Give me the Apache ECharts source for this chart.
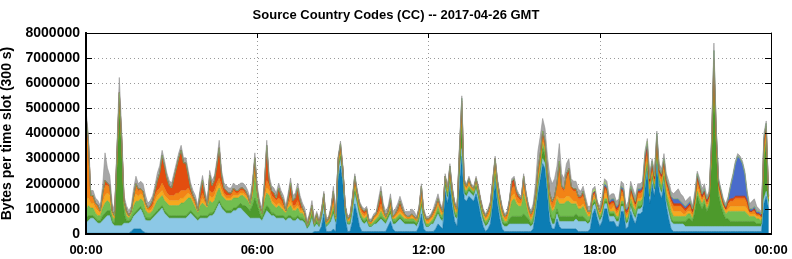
<!DOCTYPE html>
<html><head><meta charset="utf-8">
<script src="https://cdn.jsdelivr.net/npm/echarts/dist/echarts.min.js"></script>
<style>html,body{margin:0;padding:0;background:#fff}#c{width:792px;height:259px}</style>
</head><body><div id="c"></div>
<script>
// Values are in units of 100 000 bytes per 300 s slot; 288 slots (00:00 .. 23:55 GMT)
const UNIT = 100000;
const SLOTS_PER_TICK = 72; // 6 hours of 5-minute slots
const xTickLabels = ['00:00', '06:00', '12:00', '18:00', '00:00'];
const titleText = 'Source Country Codes (CC) -- 2017-04-26 GMT';
const yAxisTitle = 'Bytes per time slot (300 s)';

const ccDarkBlue = [
0.3,0.3,0.3,0.3,0.3,0.3,0.3,0.3,0.3,0.3,0.3,0.3,
0.3,0.3,0.3,0.3,0.3,0.3,0.3,1,2,2,2,2,
1,0.5,0.3,0.3,0.3,0.3,0.3,0.3,0.3,0.3,0.3,0.3,
0.3,0.3,0.3,0.3,0.3,0.3,0.3,0.3,0.3,0.3,0.3,0.3,
0.3,0.3,0.3,0.3,0.3,0.3,0.3,0.3,0.3,0.3,0.3,0.3,
0.3,0.3,0.3,0.3,0.3,0.3,0.3,0.3,0.3,0.3,0.3,0.3,
0.3,0.3,0.3,0.3,0.3,0.3,0.3,0.3,0.3,0.3,0.3,0.3,
0.3,0.3,0.3,0.3,0.3,0.3,0.3,0.3,0.3,0.3,0.3,0.3,
1,1,1,3,8,1,1,1,2,1,22,27,
20,6,1,1,5,12,8,3,1,1,1,1,
1,1,1,1,1,1,1,3,5,2,1,1,
1,1,1,1,1,1,1,1,3,8,2,1,
1,1,1,2,4,3,2,17,12,19,11,5,
3,20,31,14,13,15,14,13,16,12,7,3,
1,2,4,12,21,12,6,2,1,1,1,1,
1,1,1,1,1,1,1,1,2,8,16,22,
28,26,16,5,2,2,6,3,2,2,2,2,
2,2,2,1,1,1,1,1,2,8,10,6,
3,5,10,10,5,5,5,3,3,9,9,2,
3,9,6,4,8,8,9,18,25,12,20,15,
28,17,14,20,11,6,2,1,1,1,1,1,
1,1,1,1,1,1,1,1,1,1,1,1,
1,1,1,1,1,1,1,1,1,1,1,1,
1,1,1,1,1,1,1,1,1,12,15,10];

const ccLightBlue = [
4,5,6,6,5,4,4,5,6,7,7,4,
3,3,3,3,4,4,4,4,5,6,7,8,
7,5,5,5,6,7,8,9,10,8,7,6,
6,6,6,6,6,6,6,7,8,7,6,5,
6,6,6,6,7,7,8,10,12,10,9,8,
8,8,9,9,10,10,9,8,7,6,6,6,
6,6,5,7,9,8,7,7,6,6,6,6,
5,6,6,5,5,6,5,5,4,2,3,6,
2,3,2,3,3,2,3,4,6,3,3,3,
3,3,3,3,4,4,4,4,4,3,4,2,
2,3,3,4,5,4,3,3,3,2,3,4,
5,4,3,3,3,3,3,2,2,3,3,2,
2,3,3,4,4,3,3,2,2,2,2,2,
3,2,3,2,2,2,2,2,2,2,2,2,
2,2,2,2,2,2,2,2,2,2,3,3,
3,3,3,3,3,3,3,2,2,2,2,2,
2,2,2,2,2,2,2,2,3,3,3,3,
3,3,4,4,4,4,4,3,3,3,2,2,
2,2,2,2,2,2,2,2,2,2,2,2,
2,2,2,2,2,2,2,2,2,2,2,2,
2,2,2,2,2,3,3,3,3,3,3,3,
2,2,2,2,2,2,2,2,2,2,2,2,
2,2,2,2,2,2,2,2,2,2,2,2,
2,2,2,2,2,2,2,2,2,2,2,1];

const ccDarkGreen = [
2,2,1,1,1,1,1,2,2,2,2,1,
1,22,47,30,4,1,1,1,1,1,1,1,
1,1,1,1,1,1,1,1,1,1,1,1,
1,1,1,1,1,1,1,1,1,1,1,1,
1,1,1,1,1,1,1,1,1,1,1,1,
1,1,1,1,1,2,2,3,3,3,5,8,
5,2,1,2,2,2,1,1,1,1,1,1,
1,1,1,1,1,1,1,1,1,0,1,1,
0,1,0,1,1,0,0,1,1,1,1,1,
1,0,0,0,1,1,1,1,1,1,1,0,
0,0,1,1,1,1,1,1,1,1,1,1,
1,1,1,1,1,1,1,1,1,1,1,0,
0,0,1,1,1,1,1,1,1,1,1,1,
1,5,9,1,1,1,1,1,1,1,1,1,
1,1,1,1,1,1,1,1,1,1,2,3,
3,3,3,3,4,3,2,1,1,1,1,1,
4,3,2,2,2,2,2,2,2,2,2,2,
2,2,2,2,2,2,1,1,1,1,1,1,
1,1,1,1,1,1,1,1,1,1,1,1,
1,1,1,1,1,1,1,1,1,1,1,1,
2,1,1,1,1,1,1,1,1,1,1,1,
2,3,3,2,6,12,9,7,9,6,8,26,
56,30,12,8,5,3,3,2,2,2,2,2,
2,2,2,2,2,2,1,1,1,15,19,2];

const ccLightGreen = [
3,4,3,3,2,2,2,3,4,4,3,2,
1,3,2,2,3,2,1,2,3,4,3,3,
4,3,2,2,2,3,4,4,4,4,4,4,
4,4,4,4,5,5,6,6,5,4,3,2,
4,5,4,3,5,4,4,5,5,4,4,4,
4,4,4,4,3,3,4,3,3,2,4,10,
4,2,2,4,5,5,4,3,3,4,3,2,
2,3,4,3,3,3,2,2,1,1,1,2,
1,1,1,1,1,1,1,1,2,1,1,1,
1,1,1,1,1,2,1,1,1,1,1,1,
1,1,1,1,2,1,1,1,1,1,1,1,
1,1,1,1,1,1,1,1,1,1,1,1,
1,1,1,1,2,1,1,1,1,1,1,1,
1,2,4,1,1,1,1,1,1,1,1,1,
1,1,1,2,2,2,2,2,1,1,3,6,
7,5,4,4,8,5,2,1,2,2,2,2,
2,2,2,3,3,4,4,5,5,5,6,6,
5,5,4,3,3,4,3,2,1,1,1,1,
1,1,1,1,1,1,1,1,1,1,1,1,
1,2,2,2,2,2,2,2,1,1,1,1,
2,2,2,2,2,3,3,2,2,2,2,2,
2,2,2,1,2,2,2,2,2,1,1,2,
5,3,2,2,2,2,3,4,4,4,4,4,
4,4,3,2,2,2,2,2,1,2,2,1];

const ccYellow = [
5,3,2,2,2,2,1,2,3,3,3,1,
1,1,1,1,1,1,1,1,2,3,2,2,
2,2,1,1,1,2,2,2,2,2,2,2,
2,2,2,2,2,2,2,2,1,1,1,1,
1,2,1,1,2,2,2,2,2,2,1,1,
1,1,1,1,1,1,1,1,1,1,1,1,
1,1,0,1,2,2,1,1,1,1,1,1,
1,1,2,1,1,1,1,1,1,0,1,1,
0,1,0,0,1,0,0,1,1,0,1,1,
0,0,0,1,1,1,1,1,1,1,1,0,
0,1,1,1,1,1,0,0,1,0,1,1,
1,1,1,0,0,1,0,0,1,1,1,1,
1,1,1,1,1,1,1,1,1,1,1,1,
1,1,1,1,1,1,0,0,1,1,1,1,
1,1,1,1,1,1,1,1,1,1,1,2,
2,1,1,1,2,1,1,1,1,1,1,1,
1,1,1,1,1,1,1,2,2,2,2,2,
2,1,1,1,1,1,1,1,1,1,1,1,
1,1,2,2,1,1,2,1,2,2,2,1,
1,2,2,1,1,1,1,2,1,2,1,1,
1,1,1,1,2,2,2,2,2,2,2,1,
1,1,1,1,1,2,2,1,1,1,1,1,
2,1,1,1,1,1,1,2,2,2,2,2,
2,2,2,1,1,1,1,1,1,1,1,0];

const ccOrange = [
30,22,3,2,2,2,1,3,4,3,3,1,
1,1,2,1,1,1,0,0,2,3,2,2,
2,1,1,1,1,2,2,2,3,3,2,2,
2,2,3,3,3,3,2,2,1,1,1,0,
1,2,1,0,2,2,2,2,2,2,1,1,
1,1,2,1,1,1,1,1,1,0,1,1,
1,0,0,2,3,2,2,2,2,2,2,1,
0,1,2,1,1,2,1,1,1,0,1,1,
0,1,0,1,1,1,1,1,1,1,1,1,
1,1,1,1,1,1,1,1,1,1,1,1,
1,1,1,1,2,1,1,1,1,1,1,1,
2,1,1,1,1,1,1,1,1,2,1,1,
1,1,1,1,1,1,1,1,1,1,1,1,
1,1,2,1,1,1,1,1,1,1,1,1,
1,1,2,2,2,2,2,1,1,1,2,3,
3,2,2,1,3,2,1,1,1,1,2,2,
2,1,1,2,2,3,4,12,4,3,7,9,
4,4,4,3,3,3,2,1,1,1,1,1,
1,1,2,1,1,2,1,1,1,2,1,1,
1,1,1,1,2,2,2,2,2,2,1,1,
2,1,2,2,2,2,2,2,2,2,2,2,
1,1,2,1,1,2,2,1,1,1,1,2,
2,1,1,1,1,1,2,2,2,3,3,3,
3,3,2,1,1,1,1,1,1,2,2,1];

const ccRedOrange = [
2,1,0,1,0,0,0,1,2,1,1,0,
0,1,1,1,0,0,0,0,0,1,1,0,
0,0,0,1,2,2,4,6,10,8,6,4,
3,7,10,14,16,11,11,5,2,1,1,0,
3,5,2,0,6,3,4,7,12,4,2,2,
1,1,1,1,1,1,1,1,0,0,2,4,
0,0,0,3,13,2,2,2,1,4,2,2,
0,2,5,2,3,5,3,0,0,0,0,0,
0,0,0,0,1,0,0,1,4,0,1,1,
0,0,0,0,1,1,1,1,1,1,1,0,
0,0,0,3,5,1,0,0,2,0,0,1,
2,1,0,0,0,0,0,0,1,3,0,0,
0,0,1,1,1,1,0,0,0,1,1,1,
0,1,2,1,0,1,0,0,0,0,0,0,
0,1,1,1,1,1,1,1,0,1,1,2,
2,1,1,1,2,1,1,1,1,1,1,1,
1,1,1,1,1,1,1,2,1,1,2,2,
1,1,1,1,1,1,1,0,0,1,1,0,
0,1,1,1,1,1,1,1,1,1,1,1,
1,1,1,1,1,1,1,2,2,1,1,1,
1,1,1,1,1,1,1,1,1,1,1,1,
1,1,1,1,1,1,1,1,1,1,1,1,
1,1,1,1,0,0,1,1,1,1,1,1,
1,1,1,0,0,1,0,0,0,2,1,0];

const ccDarkRed = [
1,0,0,0,0,0,0,0,0,0,0,0,
0,1,0,0,0,0,0,0,0,0,0,0,
0,0,0,0,0,0,0,0,1,1,0,0,
0,0,0,0,0,0,0,0,0,0,0,0,
0,0,0,0,0,0,0,0,0,0,0,0,
0,0,0,0,0,0,0,0,0,0,0,0,
0,0,0,0,1,0,0,0,0,0,0,0,
0,0,0,0,0,0,0,0,0,0,0,0,
0,0,0,0,0,0,0,0,0,0,0,1,
0,0,0,0,0,1,0,0,0,0,0,0,
0,0,0,0,0,0,0,0,0,0,0,0,
0,0,0,0,0,0,0,0,0,0,0,0,
0,0,0,0,0,0,0,0,0,1,0,0,
0,1,1,0,0,0,0,0,0,0,0,0,
0,0,0,0,0,0,0,0,0,0,0,1,
1,1,0,0,0,0,0,0,0,0,1,1,
1,1,0,0,0,0,0,1,0,0,0,0,
0,0,0,0,0,1,0,0,0,0,0,0,
0,0,0,0,0,0,0,0,0,0,0,0,
0,0,0,0,0,0,0,1,1,0,1,0,
1,0,0,0,0,0,0,0,0,0,0,0,
0,0,0,0,0,1,0,0,0,0,0,1,
1,1,0,0,0,0,0,0,0,0,0,0,
0,0,0,0,0,0,0,0,0,1,1,0];

const ccBlue = [
0,0,0,0,0,0,0,0,0,0,0,0,
0,0,0,0,0,0,0,0,0,0,0,0,
0,0,0,0,0,0,0,0,0,0,0,0,
0,0,0,0,0,0,0,0,0,0,0,0,
0,0,0,0,0,0,0,0,0,0,0,0,
0,0,0,0,0,0,0,0,0,0,0,0,
0,0,0,0,0,0,0,0,0,0,0,0,
0,0,0,0,0,0,0,0,0,0,0,0,
0,0,0,0,0,0,0,0,0,0,0,0,
0,0,0,0,0,0,0,0,0,0,0,0,
0,0,0,0,0,0,0,0,0,0,0,0,
0,0,0,0,0,0,0,0,0,0,0,0,
0,0,0,0,0,0,0,0,0,0,0,0,
0,0,1,0,0,0,0,0,0,0,0,0,
0,0,0,0,0,0,0,0,0,0,0,0,
0,0,0,0,0,0,0,0,0,0,0,0,
0,0,0,0,0,0,0,0,0,0,0,0,
0,0,0,0,0,0,0,0,0,0,0,0,
0,1,1,1,1,1,1,1,1,1,1,1,
1,1,1,1,1,1,1,1,1,1,1,1,
1,1,1,1,1,1,1,2,2,2,1,1,
1,1,1,1,1,1,1,1,1,1,1,1,
3,1,1,1,1,1,1,5,9,13,16,15,
13,9,3,1,1,1,1,1,1,1,1,0];

const ccLime = [
0,0,0,0,0,0,0,0,0,0,0,0,
0,0,0,0,0,0,0,0,0,0,0,0,
0,0,0,0,0,0,0,0,0,0,0,0,
0,0,0,0,0,0,0,0,0,0,0,0,
0,0,0,0,0,0,0,0,0,0,0,0,
0,0,0,0,0,0,0,0,0,0,0,0,
0,0,0,0,0,0,0,0,0,0,0,0,
0,0,0,0,0,0,0,0,0,0,0,0,
0,0,0,0,0,0,0,0,0,0,0,0,
0,0,0,0,0,0,0,0,0,0,0,0,
0,0,0,0,0,0,0,0,0,0,0,0,
0,0,0,0,0,0,0,0,0,0,0,0,
0,0,0,0,0,0,0,0,0,0,0,0,
0,0,0,0,0,0,0,0,0,0,0,0,
0,0,0,0,0,0,0,0,0,0,0,0,
0,0,0,0,0,0,0,0,0,0,0,0,
0,0,0,0,0,0,0,0,0,0,0,0,
0,0,0,0,0,0,0,0,0,1,1,0,
0,0,1,0,0,0,0,0,0,0,0,0,
0,0,0,0,0,0,0,1,1,0,0,0,
0,0,0,0,0,0,0,0,0,0,0,0,
0,0,0,0,0,0,0,0,0,0,0,0,
0,0,0,0,0,0,0,0,0,0,0,0,
0,0,0,0,0,0,0,0,0,0,0,0];

const ccGray = [
2,2,2,2,2,2,2,3,11,6,4,3,
2,2,6,3,2,2,2,2,3,3,2,3,
3,3,2,2,2,2,3,3,2,2,2,2,
2,2,2,2,2,2,2,2,2,2,2,2,
2,2,2,2,2,2,2,2,3,2,2,2,
2,2,2,2,2,2,2,2,2,2,2,2,
2,2,2,2,2,2,2,2,2,2,2,2,
2,2,2,2,2,2,2,2,2,2,1,2,
2,1,2,1,1,1,1,1,2,1,1,1,
1,1,1,1,1,1,1,1,1,1,1,1,
1,1,1,2,2,2,2,2,2,2,2,2,
2,2,1,2,2,2,2,1,1,1,1,1,
1,1,1,2,2,1,1,1,1,1,1,1,
1,2,1,1,1,1,1,1,1,1,1,1,
1,1,1,1,1,1,1,1,1,1,1,1,
1,1,1,1,1,1,1,1,2,4,7,7,
5,5,6,7,7,7,7,7,5,4,4,4,
3,3,3,3,2,2,2,2,2,1,1,1,
2,2,1,2,2,2,2,2,2,2,2,1,
2,2,2,2,2,2,2,1,1,2,1,2,
1,2,2,2,2,2,2,2,3,4,3,3,
2,2,2,1,2,1,2,2,2,1,1,1,
3,1,1,1,1,1,1,1,1,1,1,1,
1,1,1,2,3,3,2,1,1,2,1,1];

const layers = [
  { name: 'CC 1', values: ccDarkBlue,   fill: '#0c7db4', edge: '#0a6c9c' },
  { name: 'CC 2', values: ccLightBlue,  fill: '#8cc8e6', edge: '#78b7d8' },
  { name: 'CC 3', values: ccDarkGreen,  fill: '#4d9a2c', edge: '#418b24' },
  { name: 'CC 4', values: ccLightGreen, fill: '#72be50', edge: '#62ac42' },
  { name: 'CC 5', values: ccYellow,     fill: '#f6a91f', edge: '#e39a14' },
  { name: 'CC 6', values: ccOrange,     fill: '#f28316', edge: '#df730c' },
  { name: 'CC 7', values: ccRedOrange,  fill: '#e34d0f', edge: '#cf420a' },
  { name: 'CC 8', values: ccDarkRed,    fill: '#b83a26', edge: '#a3321f' },
  { name: 'CC 9', values: ccBlue,       fill: '#4a6ccb', edge: '#3d5cb6' },
  { name: 'CC 10', values: ccLime,      fill: '#a6e05c', edge: '#93cf48' },
  { name: 'Other', values: ccGray,      fill: '#a6a6a6', edge: '#8f8f8f' }
];

// 289 category positions: slot starts 00:00 .. 23:55 plus the closing 24:00 edge
const slotCount = ccGray.length;
const slotCategories = [];
for (let i = 0; i <= slotCount; i++) slotCategories.push(String(i));
const isTick = (idx) => idx % SLOTS_PER_TICK === 0;

const FONT = 'Liberation Sans';
const chart = echarts.init(document.getElementById('c'), null, { renderer: 'canvas' });

const series = layers.map(l => ({
  name: l.name,
  type: 'line',
  stack: 'total',
  xAxisIndex: 0,
  yAxisIndex: 0,
  symbol: 'none',
  showSymbol: false,
  smooth: false,
  z: 2,
  lineStyle: { width: 0.6, color: l.edge },
  areaStyle: { color: l.fill, opacity: 1 },
  emphasis: { disabled: true },
  data: l.values.map(v => v * UNIT)
}));

const dotted = { color: '#9a9a9a', width: 1, type: [1, 3] };
const catBase = { type: 'category', data: slotCategories, boundaryGap: false };

chart.setOption({
  animation: false,
  backgroundColor: '#fff',
  title: {
    text: titleText, left: 'center', top: 4,
    textStyle: { fontFamily: FONT, fontWeight: 'bold', fontSize: 13, color: '#000' }
  },
  grid: { left: 86, right: 21, top: 33, bottom: 25, containLabel: false, outerBoundsMode: 'none' },
  xAxis: [
    Object.assign({}, catBase, { position: 'bottom',
      axisLine: { show: true, onZero: false, lineStyle: { color: '#000', width: 2 } },
      axisTick: { show: false },
      axisLabel: { interval: isTick, formatter: (v, idx) => xTickLabels[Math.round(Number(v) / SLOTS_PER_TICK)], fontFamily: FONT, fontWeight: 'bold', fontSize: 13, color: '#000', margin: 10, showMinLabel: true, showMaxLabel: true },
      splitLine: { show: true, interval: isTick, lineStyle: dotted } }),
    Object.assign({}, catBase, { position: 'bottom', z: 10,
      axisLine: { show: true, onZero: false, lineStyle: { color: '#000', width: 2 } },
      axisTick: { show: false }, axisLabel: { show: false }, splitLine: { show: false } }),
    Object.assign({}, catBase, { position: 'top', z: 10,
      axisLine: { show: true, onZero: false, lineStyle: { color: '#000', width: 1 } },
      axisTick: { show: true, inside: true, length: 5, interval: isTick, lineStyle: { color: '#000' } },
      axisLabel: { show: false }, splitLine: { show: false } })
  ],
  yAxis: [
    { type: 'value', min: 0, max: 8000000, interval: 1000000, position: 'left',
      name: yAxisTitle, nameLocation: 'middle', nameGap: 72, nameRotate: 90,
      nameTextStyle: { fontFamily: FONT, fontWeight: 'bold', fontSize: 14, color: '#000' },
      axisLine: { show: true, onZero: false, lineStyle: { color: '#000', width: 2 } },
      axisTick: { show: true, inside: true, length: 6, lineStyle: { color: '#000' } },
      axisLabel: { formatter: v => String(v), fontFamily: FONT, fontWeight: 'bold', fontSize: 14, color: '#000', margin: 6 },
      splitLine: { show: true, lineStyle: dotted } },
    { type: 'value', min: 0, max: 8000000, interval: 1000000, position: 'left', z: 10,
      axisLine: { show: true, onZero: false, lineStyle: { color: '#000', width: 2 } },
      axisTick: { show: false }, axisLabel: { show: false }, splitLine: { show: false } },
    { type: 'value', min: 0, max: 8000000, interval: 1000000, position: 'right', z: 10,
      axisLine: { show: true, onZero: false, lineStyle: { color: '#000', width: 1 } },
      axisTick: { show: true, inside: true, length: 6, lineStyle: { color: '#000' } },
      axisLabel: { show: false }, splitLine: { show: false } }
  ],
  series: series
});
</script>
</body></html>
